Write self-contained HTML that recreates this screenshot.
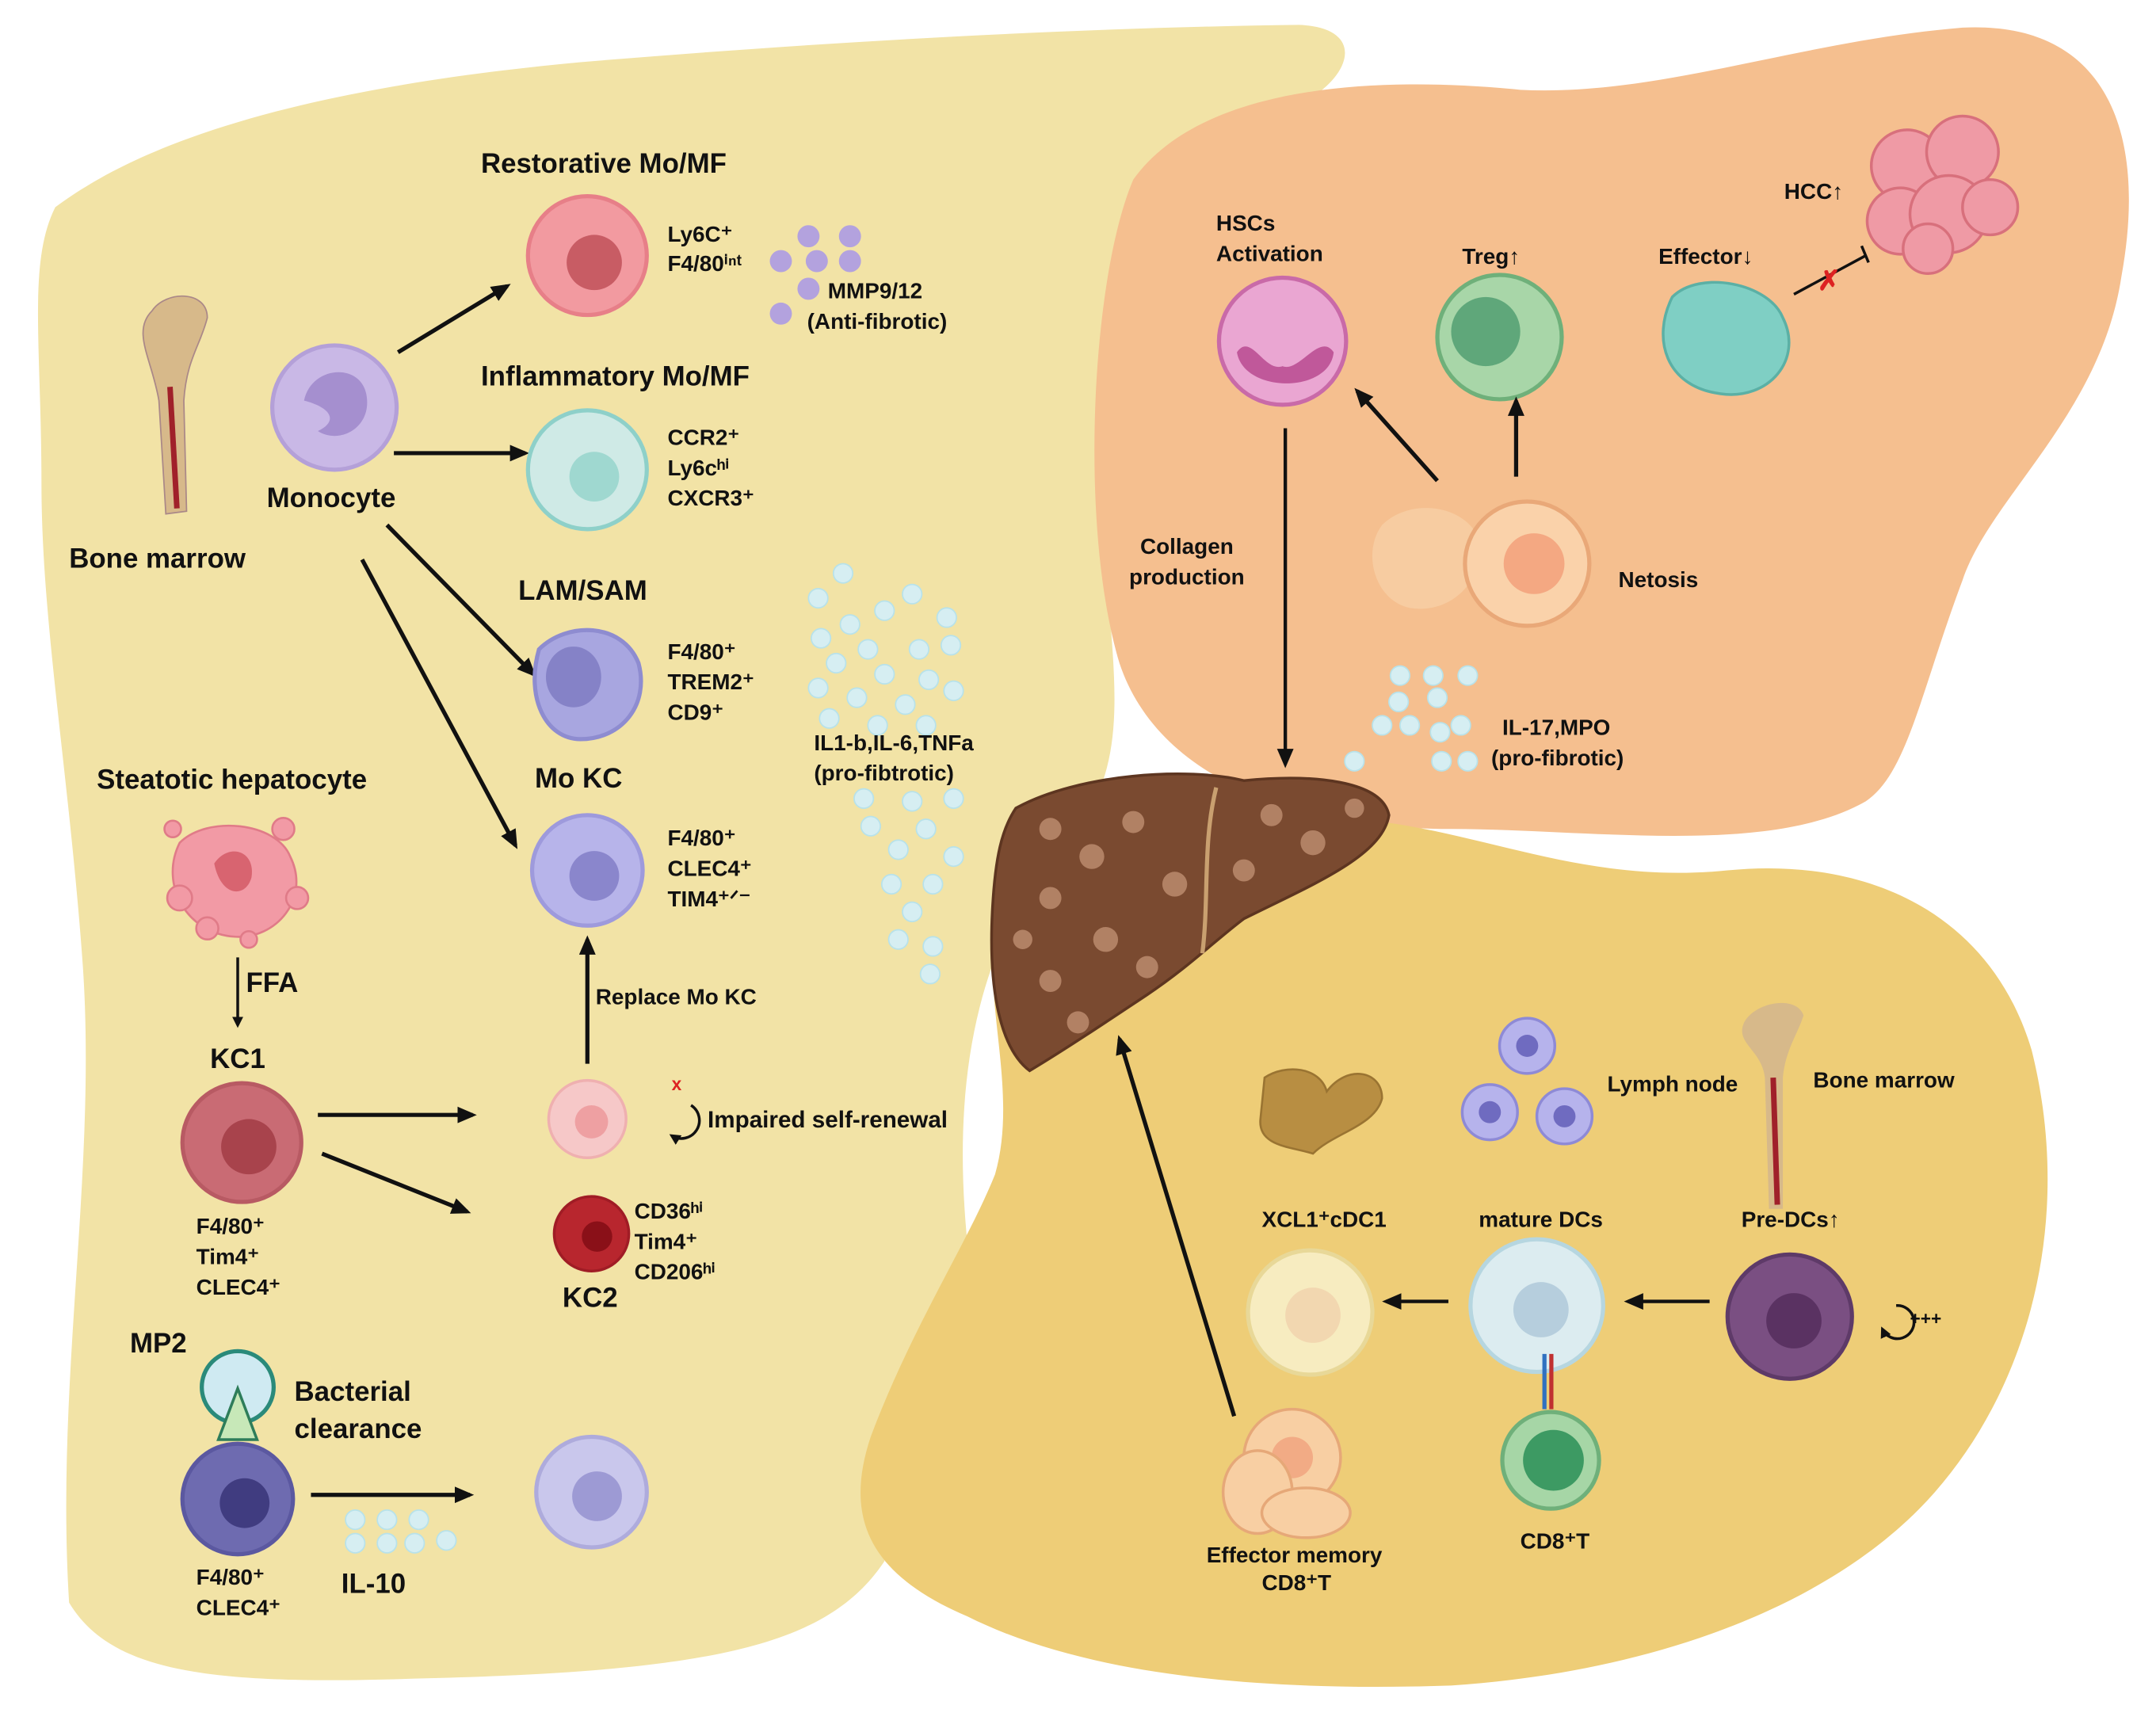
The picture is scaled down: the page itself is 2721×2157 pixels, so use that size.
<!DOCTYPE html>
<html><head><meta charset="utf-8"><style>
html,body{margin:0;padding:0;background:#fff}
svg{display:block}
text{font-family:"Liberation Sans",sans-serif;font-weight:bold;fill:#111}
</style></head><body>
<svg width="2721" height="2157" viewBox="0 0 1560 1237" preserveAspectRatio="none" xmlns="http://www.w3.org/2000/svg">
<defs>
<marker id="ah" markerWidth="8" markerHeight="8" refX="6" refY="4" orient="auto" markerUnits="userSpaceOnUse"><path d="M0,0 L8,4 L0,8 z" fill="#111"/></marker>
<marker id="ahb" markerWidth="14" markerHeight="12" refX="11" refY="6" orient="auto" markerUnits="userSpaceOnUse"><path d="M0,0 L14,6 L0,12 z" fill="#111"/></marker>
</defs>
<rect width="1560" height="1237" fill="#fff"/>
<!-- left yellow -->
<path d="M40,150 C120,90 260,60 420,45 C600,30 780,20 940,18 C985,20 980,50 950,70 C850,120 800,250 800,380 C800,480 830,560 760,620 C700,700 690,800 700,900 C660,980 620,1050 640,1130 C600,1190 520,1210 300,1215 C150,1220 80,1210 50,1160 C40,1000 70,850 60,700 C50,560 30,450 30,350 C30,250 20,190 40,150 Z" fill="#f2e3a6"/>
<!-- orange -->
<path d="M820,130 C870,60 1000,55 1100,65 C1200,70 1300,30 1420,20 C1520,15 1555,90 1535,200 C1520,300 1440,360 1420,420 C1390,500 1380,560 1350,580 C1280,620 1150,600 1050,600 C950,600 840,570 810,480 C780,380 790,200 820,130 Z" fill="#f5bf8f"/>
<!-- bottom gold -->
<path d="M730,650 C800,600 900,580 1000,595 C1080,605 1150,640 1250,630 C1350,620 1440,660 1470,760 C1500,880 1470,1000 1400,1080 C1330,1160 1200,1210 1050,1220 C900,1225 780,1210 700,1170 C630,1140 610,1100 630,1040 C660,960 700,900 720,850 C740,780 700,700 730,650 Z" fill="#eecd77"/>

<!-- bone marrow left -->
<g>
<path d="M110,225 C120,210 150,210 150,230 C145,250 135,260 133,290 L135,370 L120,372 L115,290 C110,260 95,240 110,225 Z" fill="#d7b98a" stroke="#a88" stroke-width="1"/>
<line x1="123" y1="280" x2="128" y2="368" stroke="#a0202a" stroke-width="4"/>
</g>
<text x="50" y="411" font-size="20">Bone marrow</text>

<!-- monocyte -->
<circle cx="242" cy="295" r="45" fill="#c9b8e6" stroke="#b4a0d8" stroke-width="3"/>
<path d="M220,290 C225,265 260,262 265,285 C270,310 245,322 230,312 C245,305 240,295 220,290 Z" fill="#a58fcf"/>
<text x="193" y="367" font-size="20">Monocyte</text>

<!-- arrows from monocyte -->
<line x1="288" y1="255" x2="367" y2="207" stroke="#111" stroke-width="3" marker-end="url(#ahb)"/>
<line x1="285" y1="328" x2="380" y2="328" stroke="#111" stroke-width="3" marker-end="url(#ahb)"/>
<line x1="280" y1="380" x2="386" y2="488" stroke="#111" stroke-width="3" marker-end="url(#ahb)"/>
<line x1="262" y1="405" x2="373" y2="612" stroke="#111" stroke-width="3" marker-end="url(#ahb)"/>

<!-- restorative -->
<text x="348" y="125" font-size="20">Restorative Mo/MF</text>
<circle cx="425" cy="185" r="43" fill="#f29aa0" stroke="#e77f88" stroke-width="3"/>
<circle cx="430" cy="190" r="20" fill="#c85c64"/>
<text x="483" y="175" font-size="16">Ly6C⁺</text>
<text x="483" y="196" font-size="16">F4/80ⁱⁿᵗ</text>
<g fill="#b3a2de"><circle cx="585" cy="171" r="8"/><circle cx="615" cy="171" r="8"/><circle cx="565" cy="189" r="8"/><circle cx="591" cy="189" r="8"/><circle cx="615" cy="189" r="8"/><circle cx="585" cy="209" r="8"/><circle cx="565" cy="227" r="8"/></g>
<text x="599" y="216" font-size="16">MMP9/12</text>
<text x="584" y="238" font-size="16">(Anti-fibrotic)</text>

<!-- inflammatory -->
<text x="348" y="279" font-size="20">Inflammatory Mo/MF</text>
<circle cx="425" cy="340" r="43" fill="#cfeae6" stroke="#8ed0c9" stroke-width="3"/>
<circle cx="430" cy="345" r="18" fill="#9fd8d0"/>
<text x="483" y="322" font-size="16">CCR2⁺</text>
<text x="483" y="344" font-size="16">Ly6cʰⁱ</text>
<text x="483" y="366" font-size="16">CXCR3⁺</text>

<!-- LAM -->
<text x="375" y="434" font-size="20">LAM/SAM</text>
<path d="M390,470 C410,450 450,450 462,480 C470,510 450,535 420,535 C395,535 380,505 390,470 Z" fill="#a8a6e0" stroke="#8e8cd0" stroke-width="3"/>
<ellipse cx="415" cy="490" rx="20" ry="22" fill="#8582c7"/>
<text x="483" y="477" font-size="16">F4/80⁺</text>
<text x="483" y="499" font-size="16">TREM2⁺</text>
<text x="483" y="521" font-size="16">CD9⁺</text>

<!-- Mo KC -->
<text x="387" y="570" font-size="20">Mo KC</text>
<circle cx="425" cy="630" r="40" fill="#b7b4ea" stroke="#9e9adc" stroke-width="3"/>
<circle cx="430" cy="634" r="18" fill="#8a86cc"/>
<text x="483" y="612" font-size="16">F4/80⁺</text>
<text x="483" y="634" font-size="16">CLEC4⁺</text>
<text x="483" y="656" font-size="16">TIM4⁺ᐟ⁻</text>

<!-- cytokines cloud -->
<g fill="#d6eef2" stroke="#b8e2ea" stroke-width="1">
<circle cx="610" cy="415" r="7"/><circle cx="592" cy="433" r="7"/><circle cx="660" cy="430" r="7"/><circle cx="640" cy="442" r="7"/><circle cx="615" cy="452" r="7"/><circle cx="685" cy="447" r="7"/><circle cx="594" cy="462" r="7"/><circle cx="628" cy="470" r="7"/><circle cx="665" cy="470" r="7"/><circle cx="688" cy="467" r="7"/><circle cx="605" cy="480" r="7"/><circle cx="640" cy="488" r="7"/><circle cx="672" cy="492" r="7"/><circle cx="592" cy="498" r="7"/><circle cx="620" cy="505" r="7"/><circle cx="655" cy="510" r="7"/><circle cx="690" cy="500" r="7"/><circle cx="600" cy="520" r="7"/><circle cx="635" cy="525" r="7"/><circle cx="670" cy="525" r="7"/><circle cx="625" cy="578" r="7"/><circle cx="660" cy="580" r="7"/><circle cx="690" cy="578" r="7"/><circle cx="630" cy="598" r="7"/><circle cx="670" cy="600" r="7"/><circle cx="650" cy="615" r="7"/><circle cx="690" cy="620" r="7"/><circle cx="645" cy="640" r="7"/><circle cx="675" cy="640" r="7"/><circle cx="660" cy="660" r="7"/><circle cx="650" cy="680" r="7"/><circle cx="675" cy="685" r="7"/><circle cx="673" cy="705" r="7"/></g>
<text x="589" y="543" font-size="16">IL1-b,IL-6,TNFa</text>
<text x="589" y="565" font-size="16">(pro-fibtrotic)</text>

<!-- steatotic -->
<text x="70" y="571" font-size="20">Steatotic hepatocyte</text>
<g fill="#f29aa5" stroke="#e07b88" stroke-width="1.5">
<path d="M130,610 C150,590 200,595 210,620 C225,650 200,680 170,678 C135,676 115,640 130,610 Z"/>
<circle cx="125" cy="600" r="6"/><circle cx="205" cy="600" r="8"/><circle cx="215" cy="650" r="8"/><circle cx="130" cy="650" r="9"/><circle cx="150" cy="672" r="8"/><circle cx="180" cy="680" r="6"/></g>
<path d="M155,625 C165,610 185,615 182,635 C178,650 160,650 155,625 Z" fill="#d86470"/>
<line x1="172" y1="693" x2="172" y2="742" stroke="#111" stroke-width="2" marker-end="url(#ah)"/>
<text x="178" y="718" font-size="20">FFA</text>

<!-- KC1 -->
<text x="152" y="773" font-size="20">KC1</text>
<circle cx="175" cy="827" r="43" fill="#c96b74" stroke="#b85a63" stroke-width="3"/>
<circle cx="180" cy="830" r="20" fill="#a8434c"/>
<text x="142" y="893" font-size="16">F4/80⁺</text>
<text x="142" y="915" font-size="16">Tim4⁺</text>
<text x="142" y="937" font-size="16">CLEC4⁺</text>
<line x1="230" y1="807" x2="342" y2="807" stroke="#111" stroke-width="3" marker-end="url(#ahb)"/>
<line x1="233" y1="835" x2="338" y2="877" stroke="#111" stroke-width="3" marker-end="url(#ahb)"/>

<!-- small KC -->
<circle cx="425" cy="810" r="28" fill="#f6c8c8" stroke="#efb0b0" stroke-width="2"/>
<circle cx="428" cy="812" r="12" fill="#eea0a2"/>
<line x1="425" y1="770" x2="425" y2="680" stroke="#111" stroke-width="3" marker-end="url(#ahb)"/>
<text x="431" y="727" font-size="16">Replace Mo KC</text>
<text x="486" y="789" font-size="13" fill="#d22" style="fill:#d22">x</text>
<path d="M500,800 A13,13 0 1 1 486,822" fill="none" stroke="#111" stroke-width="2" marker-end="url(#ah)"/>
<text x="512" y="816" font-size="17">Impaired self-renewal</text>

<!-- KC2 -->
<circle cx="428" cy="893" r="27" fill="#b8262e" stroke="#a01c25" stroke-width="2"/>
<circle cx="432" cy="895" r="11" fill="#8a1018"/>
<text x="459" y="882" font-size="16">CD36ʰⁱ</text>
<text x="459" y="904" font-size="16">Tim4⁺</text>
<text x="459" y="926" font-size="16">CD206ʰⁱ</text>
<text x="407" y="946" font-size="20">KC2</text>

<!-- MP2 -->
<text x="94" y="979" font-size="20">MP2</text>
<circle cx="172" cy="1004" r="26" fill="#cfeaf2" stroke="#2a8a7a" stroke-width="3"/>
<path d="M172,1005 L186,1042 L158,1042 Z" fill="#c7e8b8" stroke="#2e7d5a" stroke-width="2"/>
<text x="213" y="1014" font-size="20">Bacterial</text>
<text x="213" y="1041" font-size="20">clearance</text>
<circle cx="172" cy="1085" r="40" fill="#6e6bb0" stroke="#5b58a0" stroke-width="3"/>
<circle cx="177" cy="1088" r="18" fill="#403c80"/>
<text x="142" y="1147" font-size="16">F4/80⁺</text>
<text x="142" y="1169" font-size="16">CLEC4⁺</text>
<line x1="225" y1="1082" x2="340" y2="1082" stroke="#111" stroke-width="3" marker-end="url(#ahb)"/>
<g fill="#d6eef2" stroke="#b8e2ea"><circle cx="257" cy="1100" r="7"/><circle cx="280" cy="1100" r="7"/><circle cx="303" cy="1100" r="7"/><circle cx="257" cy="1117" r="7"/><circle cx="280" cy="1117" r="7"/><circle cx="300" cy="1117" r="7"/><circle cx="323" cy="1115" r="7"/></g>
<text x="247" y="1153" font-size="20">IL-10</text>
<circle cx="428" cy="1080" r="40" fill="#c9c7ec" stroke="#aeabdc" stroke-width="3"/>
<circle cx="432" cy="1083" r="18" fill="#9d9ad4"/>

<!-- orange region -->
<text x="880" y="167" font-size="16">HSCs</text>
<text x="880" y="189" font-size="16">Activation</text>
<circle cx="928" cy="247" r="46" fill="#eaa6d2" stroke="#c96aa8" stroke-width="3"/>
<path d="M895,255 C905,240 915,270 928,265 C940,270 955,240 965,255 C962,285 900,285 895,255 Z" fill="#c0589a"/>
<text x="1058" y="191" font-size="16">Treg↑</text>
<circle cx="1085" cy="244" r="45" fill="#a8d6a8" stroke="#6fb07a" stroke-width="3"/>
<circle cx="1075" cy="240" r="25" fill="#5fa77a"/>
<text x="1200" y="191" font-size="16">Effector↓</text>
<path d="M1210,215 C1230,195 1280,205 1290,230 C1305,260 1280,290 1245,285 C1205,280 1195,245 1210,215 Z" fill="#7fcfc4" stroke="#5bb0a5" stroke-width="2"/>
<line x1="1298" y1="213" x2="1350" y2="185" stroke="#111" stroke-width="2"/>
<line x1="1347" y1="178" x2="1352" y2="190" stroke="#111" stroke-width="2"/>
<text x="1315" y="210" font-size="20" style="fill:#d22">✗</text>
<text x="1291" y="144" font-size="16">HCC↑</text>
<g fill="#ef9aa5" stroke="#d8707c" stroke-width="2"><circle cx="1380" cy="120" r="26"/><circle cx="1420" cy="110" r="26"/><circle cx="1375" cy="160" r="24"/><circle cx="1410" cy="155" r="28"/><circle cx="1440" cy="150" r="20"/><circle cx="1395" cy="180" r="18"/></g>
<line x1="930" y1="310" x2="930" y2="553" stroke="#111" stroke-width="2.5" marker-end="url(#ahb)"/>
<text x="825" y="401" font-size="16">Collagen</text>
<text x="817" y="423" font-size="16">production</text>
<line x1="1040" y1="348" x2="982" y2="283" stroke="#111" stroke-width="3" marker-end="url(#ahb)"/>
<line x1="1097" y1="345" x2="1097" y2="290" stroke="#111" stroke-width="3" marker-end="url(#ahb)"/>
<path d="M1000,380 C1020,360 1060,365 1070,390 C1075,420 1050,445 1020,440 C995,435 985,400 1000,380 Z" fill="#f8cfa5" opacity="0.8"/>
<circle cx="1105" cy="408" r="45" fill="#fad2aa" stroke="#e9a878" stroke-width="3"/>
<circle cx="1110" cy="408" r="22" fill="#f4a882"/>
<text x="1171" y="425" font-size="16">Netosis</text>
<g fill="#d6eef2" stroke="#b8e2ea"><circle cx="1013" cy="489" r="7"/><circle cx="1037" cy="489" r="7"/><circle cx="1062" cy="489" r="7"/><circle cx="1012" cy="508" r="7"/><circle cx="1040" cy="505" r="7"/><circle cx="1000" cy="525" r="7"/><circle cx="1020" cy="525" r="7"/><circle cx="1057" cy="525" r="7"/><circle cx="1042" cy="530" r="7"/><circle cx="980" cy="551" r="7"/><circle cx="1043" cy="551" r="7"/><circle cx="1062" cy="551" r="7"/></g>
<text x="1087" y="532" font-size="16">IL-17,MPO</text>
<text x="1079" y="554" font-size="16">(pro-fibrotic)</text>

<!-- liver -->
<path d="M735,585 C780,560 860,555 900,565 C950,560 1000,565 1005,590 C1000,620 950,640 900,665 C880,680 860,700 830,720 C800,740 770,760 745,775 C725,760 715,720 718,660 C720,620 725,600 735,585 Z" fill="#7a4a30" stroke="#5d3520" stroke-width="2"/>
<g fill="#b8876a" opacity="0.9"><circle cx="760" cy="600" r="8"/><circle cx="790" cy="620" r="9"/><circle cx="820" cy="595" r="8"/><circle cx="850" cy="640" r="9"/><circle cx="760" cy="650" r="8"/><circle cx="800" cy="680" r="9"/><circle cx="760" cy="710" r="8"/><circle cx="830" cy="700" r="8"/><circle cx="920" cy="590" r="8"/><circle cx="950" cy="610" r="9"/><circle cx="980" cy="585" r="7"/><circle cx="900" cy="630" r="8"/><circle cx="780" cy="740" r="8"/><circle cx="740" cy="680" r="7"/></g>
<path d="M880,570 C870,610 875,650 870,690" stroke="#c9a070" stroke-width="3" fill="none"/>

<!-- bottom region -->
<line x1="893" y1="1025" x2="810" y2="752" stroke="#111" stroke-width="3" marker-end="url(#ahb)"/>
<path d="M915,780 C930,770 955,772 960,790 C975,770 1000,775 1000,795 C995,815 965,820 950,835 C935,830 910,830 912,810 Z" fill="#b88e42" stroke="#9a7432" stroke-width="1.5"/>
<g fill="#b6b3ec" stroke="#8e8ad6" stroke-width="2"><circle cx="1105" cy="757" r="20"/><circle cx="1078" cy="805" r="20"/><circle cx="1132" cy="808" r="20"/></g>
<g fill="#6f6bc0"><circle cx="1105" cy="757" r="8"/><circle cx="1078" cy="805" r="8"/><circle cx="1132" cy="808" r="8"/></g>
<text x="1163" y="790" font-size="16">Lymph node</text>
<path d="M1262,740 C1270,725 1300,720 1305,735 C1300,750 1292,760 1290,780 L1290,875 L1280,875 L1277,780 C1275,760 1255,755 1262,740 Z" fill="#d7b98a"/>
<line x1="1283" y1="780" x2="1286" y2="872" stroke="#a0202a" stroke-width="4"/>
<text x="1312" y="787" font-size="16">Bone marrow</text>
<text x="913" y="888" font-size="16">XCL1⁺cDC1</text>
<text x="1070" y="888" font-size="16">mature DCs</text>
<text x="1260" y="888" font-size="16">Pre-DCs↑</text>
<circle cx="948" cy="950" r="45" fill="#f7ecc0" stroke="#e8d898" stroke-width="3"/>
<circle cx="950" cy="952" r="20" fill="#f2d7b0"/>
<circle cx="1112" cy="945" r="48" fill="#dcecf0" stroke="#b6d6e0" stroke-width="3"/>
<circle cx="1115" cy="948" r="20" fill="#b6cedd"/>
<circle cx="1295" cy="953" r="45" fill="#7a4f82" stroke="#5e3a68" stroke-width="3"/>
<circle cx="1298" cy="956" r="20" fill="#5a3262"/>
<line x1="1048" y1="942" x2="1003" y2="942" stroke="#111" stroke-width="2.5" marker-end="url(#ahb)"/>
<line x1="1237" y1="942" x2="1178" y2="942" stroke="#111" stroke-width="2.5" marker-end="url(#ahb)"/>
<path d="M1372,945 A12,12 0 1 1 1362,962" fill="none" stroke="#111" stroke-width="2" marker-end="url(#ah)"/>
<text x="1382" y="959" font-size="13">+++</text>
<rect x="1116" y="980" width="3" height="40" fill="#3070c0"/><rect x="1121" y="980" width="3" height="40" fill="#c03030"/>
<circle cx="1122" cy="1057" r="35" fill="#a6d6a6" stroke="#6fb07a" stroke-width="3"/>
<circle cx="1124" cy="1057" r="22" fill="#3d9a63"/>
<text x="1100" y="1121" font-size="16">CD8⁺T</text>
<circle cx="935" cy="1055" r="35" fill="#f8cfa3" stroke="#e6a878" stroke-width="2"/>
<circle cx="935" cy="1055" r="15" fill="#f2ab85"/>
<ellipse cx="910" cy="1080" rx="25" ry="30" fill="#f8cfa3" stroke="#e6a878" stroke-width="2"/>
<ellipse cx="945" cy="1095" rx="32" ry="18" fill="#f8cfa3" stroke="#e6a878" stroke-width="2"/>
<text x="873" y="1131" font-size="16">Effector memory</text>
<text x="913" y="1151" font-size="16">CD8⁺T</text>
</svg>
</body></html>
